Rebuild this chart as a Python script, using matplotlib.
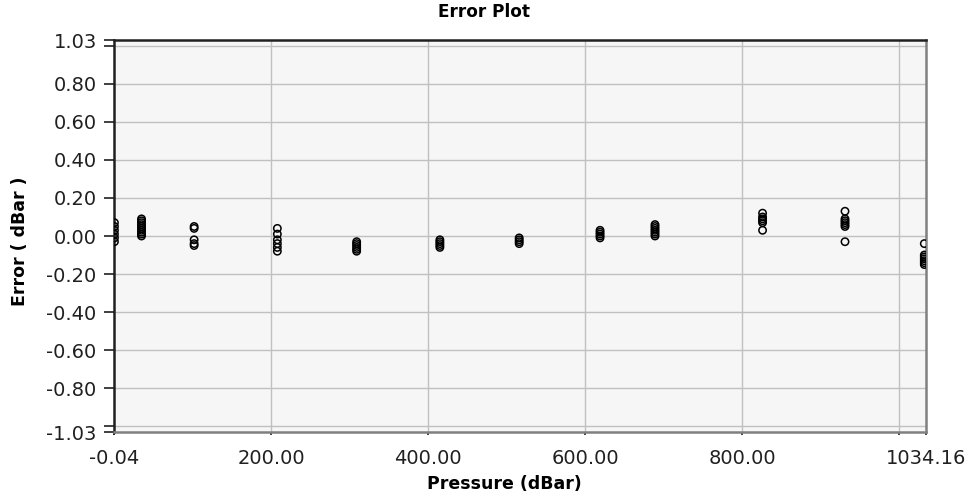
import numpy as np
import matplotlib.pyplot as plt
from matplotlib.ticker import FixedLocator

# Pressure positions (dBar) and the error readings taken at each one
pressures = [0.5, 35, 102, 208, 309, 415, 516, 619, 689, 826, 931, 1032]
errors = [
    [0.07, 0.05, 0.03, 0.01, -0.01, -0.03],
    [0.09, 0.08, 0.07, 0.06, 0.05, 0.04, 0.03, 0.02, 0.01, 0.00],
    [0.05, 0.04, -0.02, -0.04, -0.05],
    [0.04, 0.01, -0.02, -0.04, -0.06, -0.08],
    [-0.03, -0.04, -0.05, -0.06, -0.07, -0.08],
    [-0.02, -0.03, -0.04, -0.05, -0.06],
    [-0.01, -0.02, -0.03, -0.04],
    [0.03, 0.02, 0.01, 0.00, -0.01],
    [0.06, 0.05, 0.04, 0.03, 0.02, 0.01, 0.00],
    [0.12, 0.10, 0.09, 0.08, 0.07, 0.03],
    [0.13, 0.09, 0.08, 0.07, 0.06, 0.05, -0.03],
    [-0.04, -0.10, -0.11, -0.12, -0.13, -0.14, -0.15],
]

x_ticks = [-0.04, 200, 400, 600, 800, 1034.16]
x_ticklabels = ['-0.04', '200.00', '400.00', '600.00', '800.00', '1034.16']
y_ticks = [-1.03, -0.8, -0.6, -0.4, -0.2, 0.0, 0.2, 0.4, 0.6, 0.8, 1.03]
y_ticklabels = ['-1.03', '-0.80', '-0.60', '-0.40', '-0.20', '0.00',
                '0.20', '0.40', '0.60', '0.80', '1.03']

xs = []
ys = []
for p, errs in zip(pressures, errors):
    xs += [p] * len(errs)
    ys += errs

fig = plt.figure(figsize=(9.67, 5.0), dpi=100)
fig.patch.set_facecolor('white')
ax = fig.add_axes([0.1179, 0.136, 0.8397, 0.784])
ax.set_facecolor('#f6f6f6')

ax.scatter(xs, ys, s=28, facecolors='none', edgecolors='black', linewidths=1.1, zorder=3)

ax.set_xlim(-0.04, 1034.16)
ax.set_ylim(-1.03, 1.03)

ax.set_xticks(x_ticks)
ax.set_xticklabels(x_ticklabels)
ax.xaxis.set_minor_locator(FixedLocator([0, 1000]))
ax.set_yticks(y_ticks)
ax.set_yticklabels(y_ticklabels)
ax.yaxis.set_minor_locator(FixedLocator([-1.0, 1.0]))

# grid lines
for gx in [200, 400, 600, 800, 1000]:
    ax.axvline(gx, color='#c0c0c0', lw=1.0, zorder=1)
for gy in np.arange(-1.0, 1.01, 0.2):
    ax.axhline(gy, color='#c0c0c0', lw=1.0, zorder=1)

ax.tick_params(axis='y', which='both', direction='out', length=7.5, width=1.2,
               color='#202020', labelsize=14, pad=5, labelcolor='#202020')
ax.tick_params(axis='x', which='both', direction='out', length=2, width=1.2,
               color='#202020', labelsize=14, pad=10, labelcolor='#202020')

for side in ['left', 'top']:
    ax.spines[side].set_color('#202020')
    ax.spines[side].set_linewidth(1.8)
for side in ['right', 'bottom']:
    ax.spines[side].set_color('#808080')
    ax.spines[side].set_linewidth(1.8)

fig.text(0.5, 0.976, 'Error Plot', fontsize=12.2, fontweight='bold',
         ha='center', va='center')
fig.text(0.522, 0.032, 'Pressure (dBar)', fontsize=12.5, fontweight='bold',
         ha='center', va='center')
fig.text(0.021, 0.518, 'Error ( dBar )', fontsize=12.5, fontweight='bold',
         ha='center', va='center', rotation=90)

plt.savefig('out.png', dpi=100)
